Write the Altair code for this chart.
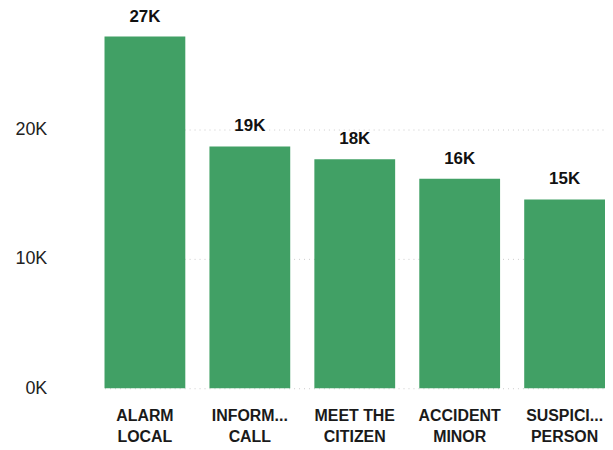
import altair as alt
import pandas as pd

categories = ["ALARM|LOCAL", "INFORM...|CALL", "MEET THE|CITIZEN", "ACCIDENT|MINOR", "SUSPICI...|PERSON"]
values = [27200, 18700, 17700, 16200, 14600]
tick_values = [0, 10000, 20000]

df = pd.DataFrame({"cat": categories, "v": values})

x = alt.X("cat:N", sort=None, title=None,
          scale=alt.Scale(paddingInner=0.23, paddingOuter=0),
          axis=alt.Axis(labelAngle=0, labelExpr="split(datum.label, '|')",
                        labelFont="Liberation Sans", labelFontSize=16, labelFontWeight="bold",
                        labelColor="#1a1a1a",
                        labelPadding=19, labelLineHeight=22, ticks=False, domain=False,
                        labelLimit=200))
y = alt.Y("v:Q", title=None,
          scale=alt.Scale(domain=[0, 27700], nice=False),
          axis=alt.Axis(values=tick_values, labelExpr="(datum.value/1000) + 'K'",
                        labelFont="Liberation Sans", labelFontSize=18, labelColor="#222",
                        labelPadding=58, ticks=False, domain=False,
                        grid=True, gridDash=[1, 4], gridColor="#cccccc"))

bars = alt.Chart(df).mark_bar(color="#41a065").encode(x=x, y=y)
text = alt.Chart(df).mark_text(dy=-20, font="Liberation Sans", fontSize=17,
                               fontWeight="bold", color="#111").encode(
    x=x, y=y, text=alt.Text("lbl:N")).transform_calculate(
    lbl="round(datum.v/1000) + 'K'")

chart = (bars + text).properties(
    width=503, height=360,
    autosize=alt.AutoSizeParams(type="none"),
    padding={"left": 97, "top": 21, "right": 0, "bottom": 70},
).configure_view(stroke=None)

chart.save("out.html", embed_options={"renderer": "svg", "actions": False})
